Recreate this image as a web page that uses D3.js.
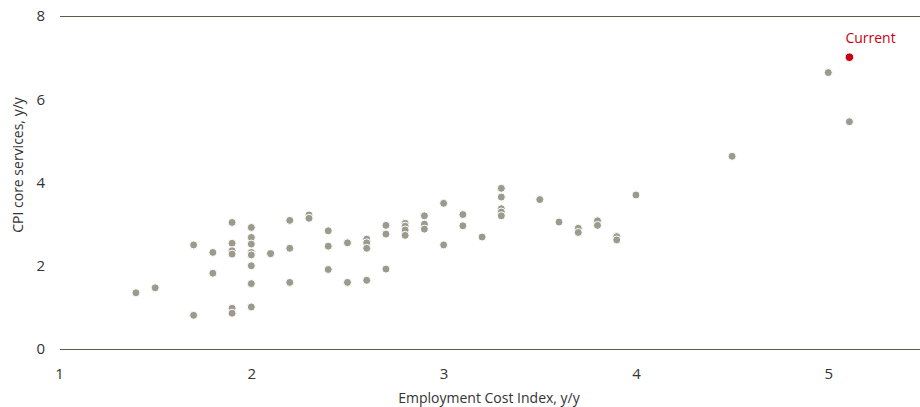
<!DOCTYPE html>
<html>
<head>
<meta charset="utf-8">
<script src="https://cdn.jsdelivr.net/npm/d3@7"></script>
<style>
  html, body { margin: 0; padding: 0; background: #fff; }
  svg { display: block; font-family: "Open Sans", "Noto Sans", sans-serif; }
</style>
</head>
<body>
<svg id="chart" width="920" height="407"></svg>
<script>
// Historical observations: Employment Cost Index y/y (x) vs CPI core services y/y (y)
const eci = [1.4,1.5,1.7,1.7,1.8,1.8,1.9,1.9,1.9,1.9,1.9,1.9,
  2.0,2.0,2.0,2.0,2.0,2.0,2.0,2.0,2.1,2.2,2.2,2.2,2.3,2.3,
  2.4,2.4,2.4,2.5,2.5,2.6,2.6,2.6,2.6,2.7,2.7,2.7,2.8,2.8,2.8,2.8,
  2.9,2.9,2.9,3.0,3.0,3.1,3.1,3.2,3.3,3.3,3.3,3.3,3.3,
  3.5,3.6,3.7,3.7,3.8,3.8,3.9,3.9,4.0,4.5,5.0,5.11];
const cpiServices = [1.35,1.47,2.5,0.81,2.32,1.82,3.04,2.54,2.36,2.28,0.98,0.86,
  2.92,2.68,2.52,2.32,2.26,2.0,1.57,1.01,2.29,3.09,2.42,1.6,3.22,3.14,
  2.84,2.47,1.91,2.55,1.6,2.64,2.55,2.42,1.65,2.97,2.76,1.92,3.02,2.95,2.86,2.73,
  3.2,3.0,2.88,3.5,2.5,3.23,2.96,2.69,3.86,3.65,3.37,3.29,3.2,
  3.59,3.05,2.9,2.8,3.08,2.97,2.7,2.62,3.7,4.63,6.64,5.46];
const currentEci = [5.11];
const currentCpi = [7.01];
const currentLabel = ["Current"];
const xTicks = [1, 2, 3, 4, 5];
const yTicks = [0, 2, 4, 6, 8];
const xTitle = "Employment Cost Index, y/y";
const yTitle = "CPI core services, y/y";

const svg = d3.select("#chart");
const x = d3.scaleLinear().domain([1, 5.477]).range([59, 920]);
const y = d3.scaleLinear().domain([0, 8]).range([349, 16]);

const textColor = "#333333";
const lineColor = "#5e5a4b";
const dotColor = "#9b9a8d";
const red = "#c8000f";

// horizontal lines at 0 and 8
svg.append("g").selectAll("line")
  .data([0, 8]).join("line")
  .attr("x1", 60).attr("x2", 920)
  .attr("y1", d => Math.round(y(d)) + 0.5).attr("y2", d => Math.round(y(d)) + 0.5)
  .attr("stroke", lineColor).attr("stroke-width", 1);

// y axis (labels only)
const yAxis = d3.axisLeft(y).tickValues(yTicks).tickFormat(d3.format("d")).tickSize(0).tickPadding(0);
const gy = svg.append("g").attr("transform", "translate(45,0)").call(yAxis);
gy.select(".domain").remove();
gy.selectAll("text").attr("font-size", 15).attr("fill", textColor)
  .attr("font-family", "'Open Sans', 'Noto Sans', sans-serif");

// x axis (labels only)
const xAxis = d3.axisBottom(x).tickValues(xTicks).tickFormat(d3.format("d")).tickSize(0).tickPadding(0);
const gx = svg.append("g").attr("transform", "translate(0,368)").call(xAxis);
gx.select(".domain").remove();
gx.selectAll("text").attr("font-size", 15).attr("fill", textColor)
  .attr("font-family", "'Open Sans', 'Noto Sans', sans-serif");

// titles
svg.append("text").attr("x", 489).attr("y", 403)
  .attr("text-anchor", "middle").attr("font-size", 14).attr("fill", textColor)
  .text(xTitle);
svg.append("text").attr("transform", "translate(23,165) rotate(-90)")
  .attr("text-anchor", "middle").attr("font-size", 14).attr("fill", textColor)
  .text(yTitle);

// historical dots
const pts = eci.map((d, i) => ({x: d, y: cpiServices[i]}));
svg.append("g").selectAll("circle")
  .data(pts).join("circle")
  .attr("cx", d => x(d.x)).attr("cy", d => y(d.y))
  .attr("r", 4)
  .attr("fill", dotColor).attr("stroke", "#fff").attr("stroke-width", 1);

// current
const cur = currentEci.map((d, i) => ({x: d, y: currentCpi[i], label: currentLabel[i]}));
svg.append("g").selectAll("circle")
  .data(cur).join("circle")
  .attr("cx", d => x(d.x)).attr("cy", d => y(d.y))
  .attr("r", 4.3)
  .attr("fill", red).attr("stroke", "#fff").attr("stroke-width", 1);
svg.append("g").selectAll("text")
  .data(cur).join("text")
  .attr("x", d => x(d.x) - 4).attr("y", d => y(d.y) - 14)
  .attr("font-size", 14).attr("fill", red)
  .text(d => d.label);
</script>
</body>
</html>
